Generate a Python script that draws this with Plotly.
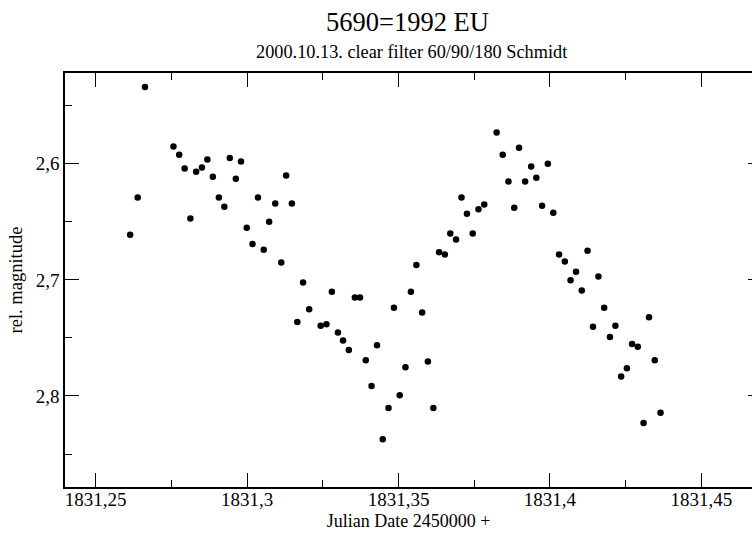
import plotly.graph_objects as go

# Julian Date offset (2450000 +) and relative magnitude
jd = [1831.2614, 1831.2639, 1831.2663, 1831.2757, 1831.2776, 1831.2794, 1831.2813, 1831.2832,
      1831.2851, 1831.2869, 1831.2887, 1831.2907, 1831.2925, 1831.2943, 1831.2963, 1831.2980,
      1831.2999, 1831.3018, 1831.3036, 1831.3055, 1831.3073, 1831.3093, 1831.3113, 1831.3129,
      1831.3148, 1831.3166, 1831.3185, 1831.3205, 1831.3243, 1831.3262, 1831.3280, 1831.3300,
      1831.3317, 1831.3336, 1831.3356, 1831.3373, 1831.3392, 1831.3411, 1831.3429, 1831.3448,
      1831.3467, 1831.3485, 1831.3504, 1831.3523, 1831.3541, 1831.3559, 1831.3578, 1831.3597,
      1831.3615, 1831.3634, 1831.3653, 1831.3671, 1831.3690, 1831.3708, 1831.3726, 1831.3745,
      1831.3764, 1831.3783, 1831.3824, 1831.3844, 1831.3863, 1831.3882, 1831.3898, 1831.3918,
      1831.3938, 1831.3955, 1831.3974, 1831.3993, 1831.4011, 1831.4030, 1831.4049, 1831.4068,
      1831.4086, 1831.4105, 1831.4124, 1831.4142, 1831.4160, 1831.4179, 1831.4198, 1831.4216,
      1831.4235, 1831.4254, 1831.4271, 1831.4290, 1831.4309, 1831.4327, 1831.4346, 1831.4365]
mag = [2.6612, 2.6291, 2.5339, 2.5851, 2.5922, 2.6041, 2.6472, 2.6069,
       2.6032, 2.5963, 2.6112, 2.6291, 2.6371, 2.5951, 2.6129, 2.5980,
       2.6552, 2.6690, 2.6291, 2.6741, 2.6500, 2.6342, 2.6851, 2.6101,
       2.6342, 2.7362, 2.7023, 2.7253, 2.7394, 2.7382, 2.7103, 2.7454,
       2.7523, 2.7603, 2.7152, 2.7152, 2.7692, 2.7914, 2.7563, 2.8373,
       2.8103, 2.7241, 2.7994, 2.7753, 2.7103, 2.6871, 2.7282, 2.7704,
       2.8103, 2.6761, 2.6782, 2.6601, 2.6653, 2.6291, 2.6431, 2.6601,
       2.6391, 2.6351, 2.5730, 2.5922, 2.6152, 2.6379, 2.5862, 2.6152,
       2.6023, 2.6121, 2.6362, 2.6000, 2.6422, 2.6782, 2.6842, 2.7003,
       2.6931, 2.7092, 2.6750, 2.7403, 2.6971, 2.7241, 2.7491, 2.7394,
       2.7833, 2.7761, 2.7552, 2.7575, 2.8233, 2.7322, 2.7692, 2.8144]

x_tickvals = [1831.25, 1831.30, 1831.35, 1831.40, 1831.45]
x_ticktext = ["1831,25", "1831,3", "1831,35", "1831,4", "1831,45"]
x_minorvals = [1831.275, 1831.325, 1831.375, 1831.425]
y_tickvals = [2.6, 2.7, 2.8]
y_ticktext = ["2,6", "2,7", "2,8"]
y_minorvals = [2.55, 2.65, 2.75, 2.85]

x_range = [1831.2399, 1831.4667]
y_range = [2.8784, 2.5218]

title_text = "5690=1992 EU"
subtitle_text = "2000.10.13. clear filter 60/90/180 Schmidt"
x_title = "Julian Date 2450000 +"
y_title = "rel. magnitude"

FONT = "Liberation Serif, Times New Roman, serif"

fig = go.Figure()
fig.add_trace(go.Scatter(x=jd, y=mag, mode="markers",
                         marker=dict(color="black", size=6.5, line=dict(width=0)),
                         showlegend=False, hoverinfo="x+y"))
fig.add_trace(go.Scatter(x=[], y=[], yaxis="y2", showlegend=False))

W, H = 752, 533
L, R, T, B = 65, 0, 73, 46

fig.update_layout(
    width=W, height=H,
    margin=dict(l=L, r=R, t=T, b=B, pad=0),
    paper_bgcolor="white", plot_bgcolor="white",
    font=dict(family=FONT, size=19, color="black"),
    xaxis=dict(range=x_range, tickmode="array", tickvals=x_tickvals, ticktext=x_ticktext,
               ticks="inside", ticklen=14, tickwidth=1.2, tickcolor="black",
               showline=True, linecolor="black", linewidth=1.5, mirror="ticks",
               showgrid=False, zeroline=False, ticklabelstandoff=-6,
               minor=dict(tickmode="array", tickvals=x_minorvals, ticks="inside",
                          ticklen=7, tickwidth=1.2, tickcolor="black", showgrid=False),
               tickfont=dict(size=19),
               title=dict(text=x_title, font=dict(size=18), standoff=6)),
    yaxis=dict(range=y_range, tickmode="array", tickvals=y_tickvals, ticktext=y_ticktext,
               ticks="inside", ticklen=14, tickwidth=1.2, tickcolor="black",
               showline=True, linecolor="black", linewidth=1.5, mirror=False,
               showgrid=False, zeroline=False,
               minor=dict(tickmode="array", tickvals=y_minorvals, ticks="inside",
                          ticklen=7, tickwidth=1.2, tickcolor="black", showgrid=False),
               tickfont=dict(size=19),
               title=dict(text=y_title, font=dict(size=18.5), standoff=8)),
    yaxis2=dict(range=y_range, overlaying="y", side="right", tickmode="array",
                tickvals=y_tickvals, ticktext=["", "", ""], showticklabels=False,
                ticks="inside", ticklen=4, tickwidth=1.2, tickcolor="black",
                showline=False, showgrid=False, zeroline=False),
    annotations=[
        dict(text=title_text, xref="paper", yref="paper",
             x=(407 - L) / (W - L - R), y=1 + (T - 22) / (H - T - B),
             xanchor="center", yanchor="middle", showarrow=False,
             font=dict(family=FONT, size=26.5, color="black")),
        dict(text=subtitle_text, xref="paper", yref="paper",
             x=(411 - L) / (W - L - R), y=1 + (T - 52) / (H - T - B),
             xanchor="center", yanchor="middle", showarrow=False,
             font=dict(family=FONT, size=18.3, color="black")),
    ],
)

fig.write_html("out.html")
